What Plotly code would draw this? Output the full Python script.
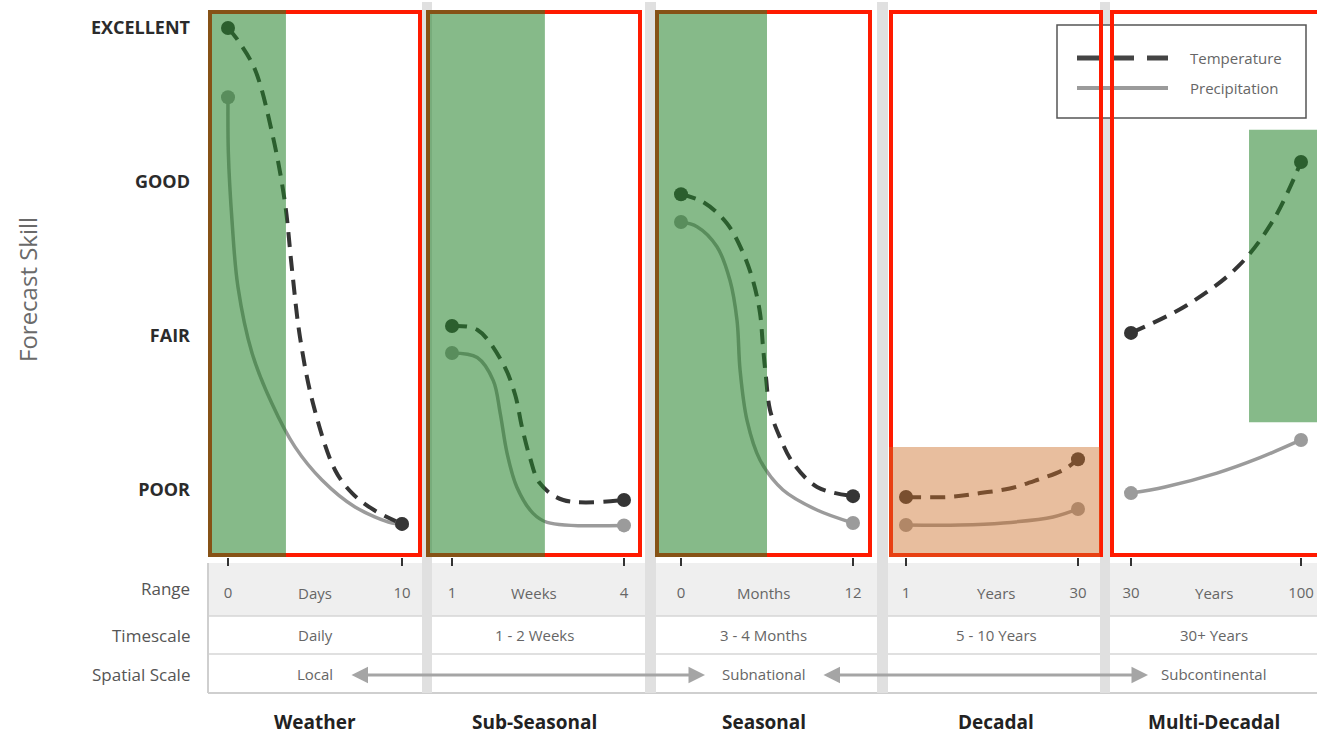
import plotly.graph_objects as go

W, H = 1317, 737

# ---------------- data ----------------
categories = ["Weather", "Sub-Seasonal", "Seasonal", "Decadal", "Multi-Decadal"]
range_units = ["Days", "Weeks", "Months", "Years", "Years"]
range_ticks = [[0, 10], [1, 4], [0, 12], [1, 30], [30, 100]]
timescales = ["Daily", "1 - 2 Weeks", "3 - 4 Months", "5 - 10 Years", "30+ Years"]
skill_labels = ["POOR", "FAIR", "GOOD", "EXCELLENT"]
skill_values = [1, 2, 3, 4]
row_labels = ["Range", "Timescale", "Spatial Scale"]
spatial_labels = ["Local", "Subnational", "Subcontinental"]
legend_labels = ["Temperature", "Precipitation"]

# Temperature skill (dashed) per timescale
temp_weather_x = [0, 0.57, 1.55, 2.59, 3.28, 3.68, 4.14, 4.89, 6.15, 7.13, 8.39, 10]
temp_weather_y = [4.0, 3.92, 3.73, 3.29, 2.86, 2.43, 1.99, 1.56, 1.13, 0.98, 0.87, 0.78]
temp_subseasonal_x = [1, 1.44, 1.89, 2.10, 2.22, 2.36, 2.53, 2.94, 4]
temp_subseasonal_y = [2.065, 2.04, 1.82, 1.62, 1.41, 1.21, 1.045, 0.935, 0.935]
temp_seasonal_x = [0, 1.54, 3.21, 4.33, 5.02, 5.51, 5.72, 5.93, 6.21, 6.91, 7.82, 9.49, 12]
temp_seasonal_y = [2.92, 2.87, 2.73, 2.54, 2.36, 2.15, 1.93, 1.73, 1.52, 1.34, 1.175, 1.02, 0.96]
temp_decadal_x = [1, 8.4, 13.5, 18.5, 23.1, 27.5, 30]
temp_decadal_y = [0.955, 0.955, 0.98, 1.01, 1.065, 1.13, 1.2]
temp_multidecadal_x = [30, 53, 74, 88.5, 100]
temp_multidecadal_y = [2.02, 2.20, 2.45, 2.75, 3.13]

# Precipitation skill (solid) per timescale
prec_weather_x = [0, 0.02, 0.23, 0.57, 1.38, 2.53, 3.85, 5.40, 7.30, 9.43, 10]
prec_weather_y = [3.55, 3.19, 2.75, 2.32, 1.89, 1.56, 1.28, 1.065, 0.89, 0.786, 0.78]
prec_subseasonal_x = [1, 1.44, 1.72, 1.84, 1.96, 2.13, 2.41, 2.66, 4]
prec_subseasonal_y = [1.89, 1.86, 1.71, 1.50, 1.24, 1.02, 0.85, 0.79, 0.77]
prec_seasonal_x = [0, 1.12, 2.51, 3.42, 3.91, 4.12, 4.61, 5.51, 7.12, 9.49, 12]
prec_seasonal_y = [2.74, 2.71, 2.58, 2.36, 2.10, 1.78, 1.45, 1.195, 1.0, 0.87, 0.786]
prec_decadal_x = [1, 10.1, 17.4, 25.8, 30]
prec_decadal_y = [0.773, 0.773, 0.786, 0.825, 0.877]
prec_multidecadal_x = [30, 44, 65.4, 83.1, 100]
prec_multidecadal_y = [0.98, 1.02, 1.11, 1.21, 1.325]

# Highlighted skill zones
green_zone_end = [3.33, 2.62, 6.0]          # weather (days), sub-seasonal (weeks), seasonal (months)
multi_green_x0 = 78.6                        # years
multi_green_y = [1.44, 3.34]                 # skill
decadal_orange_top = 1.28                    # skill

temps = [(temp_weather_x, temp_weather_y), (temp_subseasonal_x, temp_subseasonal_y),
         (temp_seasonal_x, temp_seasonal_y), (temp_decadal_x, temp_decadal_y),
         (temp_multidecadal_x, temp_multidecadal_y)]
precs = [(prec_weather_x, prec_weather_y), (prec_subseasonal_x, prec_subseasonal_y),
         (prec_seasonal_x, prec_seasonal_y), (prec_decadal_x, prec_decadal_y),
         (prec_multidecadal_x, prec_multidecadal_y)]

# ---------------- layout geometry (pixels) ----------------
panel_px = [(208, 422), (426, 642), (655, 872), (889, 1103), (1110, 1317)]
tick_px = [(228, 402), (452, 624), (681, 853), (906, 1078), (1131, 1301)]
plot_top, plot_bot = 10, 557
poor_px, excellent_px = 490, 28


def px_x(p):
    return p / W


def px_y(p):
    return 1 - p / H


unit = (poor_px - excellent_px) / 3.0
y_lo = 1 + (poor_px - plot_bot) / unit
y_hi = 1 + (poor_px - plot_top) / unit

TEMP_C = "#353535"
PREC_C = "#9b9b9b"
FONT = "Open Sans"
TEMP_DASH = "15px,9px"

axis_ids = ["x", "x2", "x3", "x4", "x5"]
ranges = []
for (L, R), (p0, p1), (t0, t1) in zip(panel_px, tick_px, range_ticks):
    s = (t1 - t0) / (p1 - p0)
    ranges.append([t0 - (p0 - L) * s, t1 + (R - p1) * s])

fig = go.Figure()

for i, aid in enumerate(axis_ids):
    x, y = precs[i]
    fig.add_trace(go.Scatter(x=x, y=y, mode="lines", xaxis=aid, yaxis="y",
                             line=dict(color=PREC_C, width=3.5, shape="spline", smoothing=1.0),
                             name=legend_labels[1], showlegend=False, hoverinfo="skip"))
for i, aid in enumerate(axis_ids):
    x, y = temps[i]
    fig.add_trace(go.Scatter(x=x, y=y, mode="lines", xaxis=aid, yaxis="y",
                             line=dict(color=TEMP_C, width=4, dash=TEMP_DASH, shape="spline", smoothing=1.0),
                             name=legend_labels[0], showlegend=False, hoverinfo="skip"))
for i, aid in enumerate(axis_ids):
    x, y = precs[i]
    fig.add_trace(go.Scatter(x=[x[0], x[-1]], y=[y[0], y[-1]], mode="markers", xaxis=aid, yaxis="y",
                             marker=dict(color=PREC_C, size=14), showlegend=False, hoverinfo="skip"))
for i, aid in enumerate(axis_ids):
    x, y = temps[i]
    fig.add_trace(go.Scatter(x=[x[0], x[-1]], y=[y[0], y[-1]], mode="markers", xaxis=aid, yaxis="y",
                             marker=dict(color=TEMP_C, size=14), showlegend=False, hoverinfo="skip"))

layout = dict(
    width=W, height=H,
    margin=dict(l=0, r=0, t=0, b=0),
    paper_bgcolor="white", plot_bgcolor="rgba(0,0,0,0)",
    showlegend=False,
    yaxis=dict(domain=[px_y(plot_bot), px_y(plot_top)], range=[y_lo, y_hi], anchor="x",
               tickvals=skill_values, ticktext=skill_labels, ticks="", showgrid=False,
               zeroline=False, showline=False, ticklabelstandoff=17,
               tickfont=dict(family=FONT, size=18, color="#2b2b2b", weight=700), fixedrange=True),
    hovermode=False,
)
for i, aid in enumerate(axis_ids):
    key = "xaxis" if i == 0 else f"xaxis{i + 1}"
    L, R = panel_px[i]
    layout[key] = dict(domain=[px_x(L), px_x(R)], range=ranges[i], anchor="y",
                       tickvals=range_ticks[i], ticktext=[str(v) for v in range_ticks[i]],
                       ticks="outside", ticklen=8, tickwidth=2, tickcolor="#333",
                       showgrid=False, zeroline=False, showline=False, ticklabelstandoff=14,
                       tickfont=dict(family=FONT, size=15, color="#666"), fixedrange=True)
fig.update_layout(**layout)

shapes = []
# table background
shapes.append(dict(type="rect", xref="paper", yref="paper", x0=px_x(208), x1=1.0,
                   y0=px_y(616), y1=px_y(563), fillcolor="#efefef", line_width=0, layer="below"))
for py in (616, 654):
    shapes.append(dict(type="line", xref="paper", yref="paper", x0=px_x(208), x1=1.0,
                       y0=px_y(py), y1=px_y(py), line=dict(color="#d6d6d6", width=1.5), layer="below"))
shapes.append(dict(type="line", xref="paper", yref="paper", x0=px_x(208), x1=1.0,
                   y0=px_y(693), y1=px_y(693), line=dict(color="#cfcfcf", width=2), layer="below"))
shapes.append(dict(type="line", xref="paper", yref="paper", x0=px_x(208), x1=px_x(208),
                   y0=px_y(693), y1=px_y(563), line=dict(color="#cfcfcf", width=2), layer="below"))
# column separators
for a, b in [(422, 432), (645, 656), (877, 888), (1100, 1110)]:
    shapes.append(dict(type="rect", xref="paper", yref="paper", x0=px_x(a), x1=px_x(b),
                       y0=px_y(693), y1=px_y(2), fillcolor="#e0e0e0", line_width=0, layer="below"))
# legend box + samples
shapes.append(dict(type="rect", xref="paper", yref="paper", x0=px_x(1057), x1=px_x(1306),
                   y0=px_y(118), y1=px_y(25), fillcolor="white",
                   line=dict(color="#555", width=1.5), layer="below"))
shapes.append(dict(type="line", xref="paper", yref="paper", x0=px_x(1077), x1=px_x(1168),
                   y0=px_y(58), y1=px_y(58), line=dict(color="#444", width=5, dash="22px,13px"),
                   layer="below"))
shapes.append(dict(type="line", xref="paper", yref="paper", x0=px_x(1077), x1=px_x(1168),
                   y0=px_y(88), y1=px_y(88), line=dict(color="#9b9b9b", width=4), layer="below"))
# red boxes
for i, (L, R) in enumerate(panel_px):
    shapes.append(dict(type="rect", xref="paper", yref="paper", x0=px_x(L + 2),
                       x1=px_x(R - 2) if i < 4 else 1.01,
                       y0=px_y(plot_bot - 2), y1=px_y(plot_top + 2),
                       line=dict(color="#ff1a00", width=4), fillcolor="rgba(0,0,0,0)", layer="above"))
# green skill zones (translucent, above lines)
GREEN = "rgba(35,130,40,0.55)"
for i in range(3):
    shapes.append(dict(type="rect", xref=axis_ids[i], yref="y domain", x0=ranges[i][0], x1=green_zone_end[i],
                       y0=0, y1=1, fillcolor=GREEN, line_width=0, layer="above"))
shapes.append(dict(type="rect", xref="x5", yref="y", x0=multi_green_x0, x1=ranges[4][1] + 5,
                   y0=multi_green_y[0], y1=multi_green_y[1], fillcolor=GREEN, line_width=0, layer="above"))
shapes.append(dict(type="rect", xref="x4", yref="y", x0=ranges[3][0], x1=33.7,
                   y0=y_lo, y1=decadal_orange_top, fillcolor="rgba(205,110,40,0.45)",
                   line_width=0, layer="above"))
fig.update_layout(shapes=shapes)

ann = []


def text(t, x, y, xref="paper", size=15, color="#666", xanchor="center", bold=False, angle=0):
    return dict(text=t, x=x, y=y, xref=xref, yref="paper", xanchor=xanchor, yanchor="middle",
                showarrow=False, textangle=angle,
                font=dict(family=FONT, size=size, color=color, weight=700 if bold else 400))


ann.append(text("Forecast Skill", px_x(27), px_y(290), size=24, color="#6a6a6a", angle=-90))
for lab, py in zip(row_labels, (588, 635, 674)):
    ann.append(text(lab, px_x(192), px_y(py), size=17, color="#555", xanchor="right"))
for i, aid in enumerate(axis_ids):
    ann.append(text(range_units[i], 0.5, px_y(593), xref=f"{aid} domain", size=15))
    ann.append(text(timescales[i], 0.5, px_y(635), xref=f"{aid} domain", size=15))
    ann.append(text(categories[i], 0.5, px_y(722), xref=f"{aid} domain", size=19, color="#222", bold=True))
for lab, aid in zip(spatial_labels, ("x", "x3", "x5")):
    ann.append(text(lab, 0.5, px_y(674), xref=f"{aid} domain", size=15))
for lab, py in zip(legend_labels, (58, 88)):
    ann.append(text(lab, px_x(1188), px_y(py), size=15, color="#666", xanchor="left"))
for a, b in [(350, 705), (822, 1148)]:
    ann.append(dict(text="", x=px_x(b), y=px_y(675), xref="paper", yref="paper",
                    ax=-(b - a), ay=0, axref="pixel", ayref="pixel", showarrow=True,
                    arrowhead=2, arrowside="end+start", arrowwidth=3, arrowsize=1.1,
                    arrowcolor="#a5a5a5", standoff=0, startstandoff=0))
fig.update_layout(annotations=ann)

fig.write_html("out.html", config={"displayModeBar": False},
               post_script="document.body.style.margin='0px';document.body.style.overflow='hidden';")
